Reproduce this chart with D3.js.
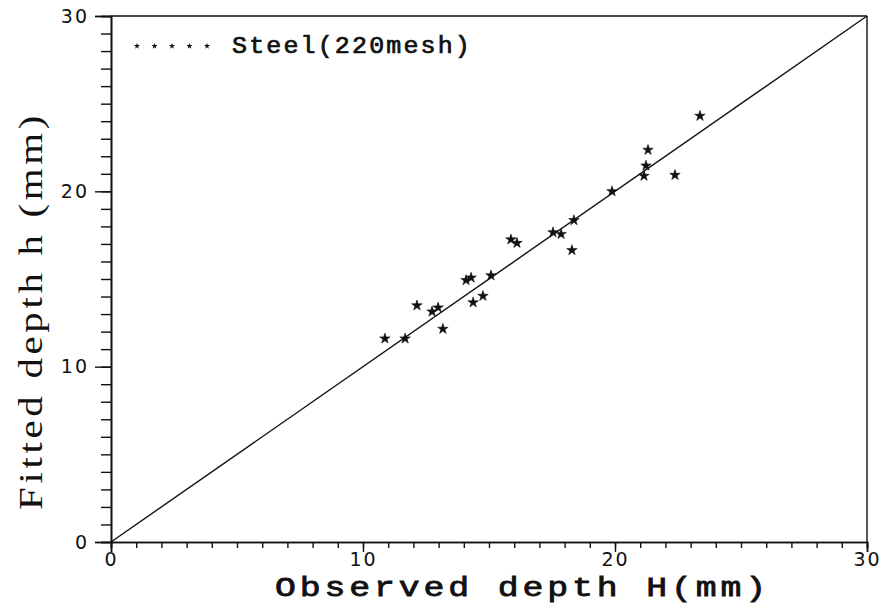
<!DOCTYPE html>
<html>
<head>
<meta charset="utf-8">
<script src="https://cdn.jsdelivr.net/npm/d3@7"></script>
<style>
  html, body { margin: 0; padding: 0; background: #fff; }
  svg { display: block; }
</style>
</head>
<body>
<svg id="chart" width="890" height="606"></svg>
<script>
// Observed vs fitted penetration depth, steel powder (220 mesh)
const observedH = [10.87, 11.67, 12.14, 12.74, 12.98, 13.17, 14.09, 14.29, 14.37, 14.76,
                   15.08, 15.87, 16.11, 17.54, 17.86, 18.29, 18.37, 19.88, 21.15, 21.23,
                   21.31, 22.38, 23.37];
const fittedH   = [11.60, 11.60, 13.49, 13.14, 13.37, 12.15, 14.93, 15.07, 13.66, 14.03,
                   15.20, 17.25, 17.05, 17.66, 17.56, 16.64, 18.35, 20.00, 20.88, 21.46,
                   22.36, 20.93, 24.30];
const majorTicks = [0, 10, 20, 30];
const minorTicks = d3.range(0, 31, 1);
const seriesName = "Steel(220mesh)";
const xTitle = "Observed depth H(mm)";
const yTitle = "Fitted depth h (mm)";

const svg = d3.select("#chart");
const x = d3.scaleLinear().domain([0, 30]).range([111, 867]);
const y = d3.scaleLinear().domain([0, 30]).range([542, 16]);
const ink = "#111";

// frame: top and right edges
svg.append("line").attr("x1", x(0)).attr("x2", x(30)).attr("y1", y(30)).attr("y2", y(30))
  .attr("stroke", ink).attr("stroke-width", 1.6);
svg.append("line").attr("x1", x(30)).attr("x2", x(30)).attr("y1", y(30)).attr("y2", y(0))
  .attr("stroke", ink).attr("stroke-width", 1.4);

// bottom axis
const xAxis = svg.append("g").attr("transform", `translate(0,${y(0)})`);
xAxis.call(d3.axisBottom(x).tickValues(minorTicks).tickSize(6).tickFormat(""));
const xMajor = svg.append("g").attr("transform", `translate(0,${y(0)})`);
xMajor.call(d3.axisBottom(x).tickValues(majorTicks).tickSize(10).tickPadding(4).tickFormat(d3.format("d")));

// left axis
const yAxis = svg.append("g").attr("transform", `translate(${x(0)},0)`);
yAxis.call(d3.axisLeft(y).tickValues(minorTicks).tickSize(10).tickFormat(""));
const yMajor = svg.append("g").attr("transform", `translate(${x(0)},0)`);
yMajor.call(d3.axisLeft(y).tickValues(majorTicks).tickSize(16).tickPadding(6).tickFormat(d3.format("d")));

svg.selectAll(".domain").attr("stroke", ink).attr("stroke-width", 1.6);
svg.selectAll(".tick line").attr("stroke", ink).attr("stroke-width", 1.4);
svg.selectAll(".tick text")
  .attr("fill", ink)
  .style("font-family", "'DejaVu Sans', sans-serif")
  .style("font-size", "19px")
  .style("letter-spacing", "2px");
xMajor.selectAll(".tick text").attr("y", 11).attr("dy", "0.71em");

// 1:1 reference line
svg.append("line")
  .attr("x1", x(0)).attr("y1", y(0)).attr("x2", x(30)).attr("y2", y(30))
  .attr("stroke", ink).attr("stroke-width", 1.4);

// data points
const star = d3.symbol().type(d3.symbolStar).size(34);
svg.append("g").selectAll("path").data(observedH.map((d, i) => [d, fittedH[i]]))
  .join("path")
  .attr("d", star)
  .attr("transform", d => `translate(${x(d[0])},${y(d[1])})`)
  .attr("fill", ink)
  .attr("stroke", ink)
  .attr("stroke-width", 0.6);

// legend
const legStar = d3.symbol().type(d3.symbolStar).size(12);
svg.append("g").selectAll("path").data(d3.range(5)).join("path")
  .attr("d", legStar)
  .attr("transform", i => `translate(${137 + i * 17.5},46)`)
  .attr("fill", ink);
svg.append("text")
  .attr("x", 232).attr("y", 53)
  .attr("textLength", 240).attr("lengthAdjust", "spacingAndGlyphs")
  .style("font-family", "'Liberation Mono', 'Courier New', monospace")
  .style("font-size", "23px")
  .style("letter-spacing", "2px")
  .attr("fill", ink)
  .attr("stroke", ink).attr("stroke-width", 0.7)
  .text(seriesName);

// axis titles
svg.append("text")
  .attr("x", 275).attr("y", 596)
  .attr("textLength", 495).attr("lengthAdjust", "spacingAndGlyphs")
  .style("font-family", "'Liberation Mono', 'Courier New', monospace")
  .style("font-size", "27px")
  .style("letter-spacing", "3px")
  .attr("fill", ink)
  .attr("stroke", ink).attr("stroke-width", 0.8)
  .text(xTitle);

svg.append("text")
  .attr("transform", "translate(42,510) rotate(-90)")
  .attr("x", 0).attr("y", 0)
  .attr("textLength", 398).attr("lengthAdjust", "spacingAndGlyphs")
  .style("font-family", "'Liberation Serif', 'Times New Roman', serif")
  .style("font-size", "33px")
  .style("letter-spacing", "3px")
  .attr("fill", ink)
  .text(yTitle);
</script>
</body>
</html>
